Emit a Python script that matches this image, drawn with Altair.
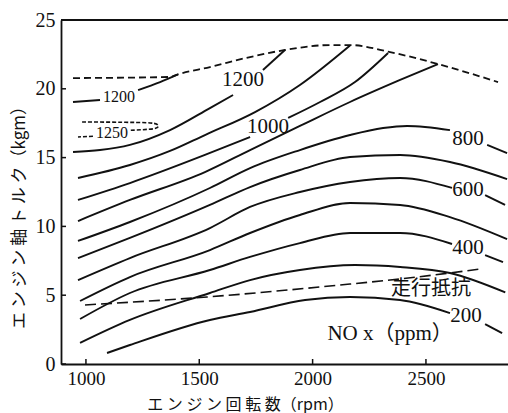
import altair as alt
import pandas as pd

# Axes: engine speed (rpm) and engine shaft torque (kgm)
SPEED_DOMAIN = [890, 2862]
TORQUE_DOMAIN = [0, 25]
speed_ticks = [1000, 1500, 2000, 2500]
torque_ticks = [0, 5, 10, 15, 20, 25]

# NOx iso-concentration lines (ppm). Each is a list of segments; the breaks
# leave room for the value labels. Points are (rpm, kgm).
nox_200 = [[(1093, 0.8), (1194, 1.38), (1547, 3.2), (1724, 3.78), (1967, 4.65),
            (2165, 4.87), (2386, 4.65), (2606, 3.7)],
           [(2761, 2.9), (2836, 2.25)]]
nox_300 = [[(974, 1.53), (1194, 3.2), (1547, 5.16), (1724, 6.1), (1944, 6.83),
            (2187, 7.19), (2386, 7.05), (2606, 6.61), (2850, 5.2)]]
nox_400 = [[(974, 3.27), (1194, 5.16), (1547, 6.83), (1724, 7.78), (1944, 8.79),
            (2165, 9.52), (2386, 9.52), (2615, 8.72)],
           [(2761, 7.92), (2840, 7.41)]]
nox_500 = [[(974, 4.58), (1194, 6.32), (1547, 8.28), (1724, 9.52), (1944, 10.83),
            (2165, 11.7), (2386, 11.56), (2606, 10.68), (2858, 9.08)]]
nox_600 = [[(965, 6.1), (1194, 7.7), (1547, 9.88), (1724, 11.41), (1944, 12.5),
            (2165, 13.23), (2386, 13.52), (2615, 12.8)],
           [(2761, 12.28), (2849, 11.56)]]
nox_700 = [[(965, 7.7), (1194, 9.16), (1547, 11.56), (1724, 12.86), (1944, 14.1),
            (2165, 15.04), (2386, 15.19), (2606, 14.68), (2858, 13.44)]]
nox_800 = [[(965, 8.94), (1194, 10.32), (1547, 12.79), (1724, 14.24), (1944, 15.55),
            (2165, 16.64), (2311, 17.15), (2417, 17.3), (2606, 17.0)],
           [(2770, 15.92), (2858, 15.33)]]
nox_900 = [[(965, 10.39), (1194, 11.92), (1525, 13.95), (1724, 15.55), (1944, 17.3),
            (2165, 19.04), (2386, 20.64), (2553, 21.8)]]
nox_1000 = [[(965, 11.92), (1194, 13.15), (1525, 15.19), (1724, 16.5)],
            [(1892, 17.88), (2033, 19.04), (2187, 20.49), (2333, 22.6)]]
nox_1100 = [[(965, 13.52), (1194, 14.46), (1371, 15.48), (1525, 16.64), (1746, 18.31),
             (1944, 20.28), (2165, 23.15)]]
nox_1200 = [[(943, 15.41), (1062, 15.55), (1194, 15.92), (1371, 17.0), (1547, 18.6),
             (1649, 19.55)],
            [(1781, 21.37), (1878, 22.82)]]
nox_1200_upper = [[(943, 19.04), (1062, 19.19)],
                  [(1230, 19.91), (1327, 20.49), (1406, 21.05)]]

# 1250 ppm island (open on the low-speed side), traced in drawing order
nox_1250 = [[(983, 17.59), (1150, 17.57), (1283, 17.52), (1318, 17.35), (1300, 17.1),
             (1194, 16.98)],
            [(1031, 16.55), (965, 16.5)]]

# Full-throttle torque curve and road-load (running resistance) curve
full_load = [(943, 20.78), (1371, 20.86), (1406, 21.05), (1547, 21.58), (1724, 22.31),
             (1878, 22.82), (2077, 23.18), (2165, 23.18), (2342, 22.67), (2553, 21.8),
             (2818, 20.49)]
road_load = [(996, 4.29), (1534, 4.87), (2165, 5.81), (2342, 6.1), (2739, 6.9)]

# Contour value labels
label_text = ["1200", "1250", "1200", "1000", "800", "600", "400", "200"]
label_rpm = [1146, 1115, 1693, 1803, 2686, 2686, 2686, 2677]
label_kgm = [19.4, 16.79, 20.64, 17.19, 16.35, 12.65, 8.43, 3.49]
label_size = [16, 16, 21, 21, 21, 21, 21, 21]

# Other annotations
note_text = ["走行抵抗", "NO x（ppm）"]
note_rpm = [2522, 2342]
note_kgm = [5.45, 2.18]
note_size = [20, 21]
note_font = ["Noto Sans CJK JP", "Liberation Serif, Noto Sans CJK JP"]

INK = "#111111"


def segments_frame(groups):
    rows = []
    for name, segs in groups:
        for i, seg in enumerate(segs):
            for j, (rpm, kgm) in enumerate(seg):
                rows.append({"seg": f"{name}-{i}", "ord": j, "rpm": rpm, "kgm": kgm})
    return pd.DataFrame(rows)


contour_df = segments_frame([
    ("200", nox_200), ("300", nox_300), ("400", nox_400), ("500", nox_500),
    ("600", nox_600), ("700", nox_700), ("800", nox_800), ("900", nox_900),
    ("1000", nox_1000), ("1100", nox_1100), ("1200", nox_1200),
    ("1200u", nox_1200_upper),
])
island_df = segments_frame([("1250", nox_1250)])
full_df = segments_frame([("full", [full_load])])
road_df = segments_frame([("road", [road_load])])
label_df = pd.DataFrame({"text": label_text, "rpm": label_rpm, "kgm": label_kgm,
                         "size": label_size})

axis_style = dict(
    domainColor=INK, domainWidth=1.8, tickSize=0, grid=False,
    labelColor=INK, labelFont="Liberation Serif",
    titleColor=INK, titleFont="Noto Sans CJK JP", titleFontWeight="normal",
    format="d",
)

x_enc = alt.X(
    "rpm:Q",
    scale=alt.Scale(domain=SPEED_DOMAIN, nice=False, zero=False),
    axis=alt.Axis(values=speed_ticks, labelPadding=5, labelFontSize=19,
                  title="エ ン ジ ン 回 転 数（rpm）", titleFontSize=16,
                  titleX=184, titleY=40, titleBaseline="middle", **axis_style),
)
y_enc = alt.Y(
    "kgm:Q",
    scale=alt.Scale(domain=TORQUE_DOMAIN, nice=False, zero=False),
    axis=alt.Axis(values=torque_ticks, labelPadding=6, labelFontSize=20,
                  title="エ ン ジ ン 軸 ト ル ク（kgm）", titleFontSize=17,
                  titleX=-42, titleY=193, titleBaseline="middle", **axis_style),
)

contours = alt.Chart(contour_df).mark_line(
    interpolate="monotone", color=INK, strokeWidth=1.9, clip=True
).encode(x=x_enc, y=y_enc, detail="seg:N")

island = alt.Chart(island_df).mark_line(
    interpolate="cardinal", color=INK, strokeWidth=1.6, strokeDash=[4, 2], clip=True
).encode(x="rpm:Q", y="kgm:Q", detail="seg:N", order="ord:Q")

full_curve = alt.Chart(full_df).mark_line(
    interpolate="monotone", color=INK, strokeWidth=1.8, strokeDash=[7, 4], clip=True
).encode(x="rpm:Q", y="kgm:Q")

road_curve = alt.Chart(road_df).mark_line(
    interpolate="monotone", color=INK, strokeWidth=1.6, strokeDash=[11, 5], clip=True
).encode(x="rpm:Q", y="kgm:Q")

labels = alt.Chart(label_df).mark_text(
    font="Liberation Serif", color=INK, align="center", baseline="middle"
).encode(x="rpm:Q", y="kgm:Q", text="text:N", size=alt.Size("size:Q", scale=None))

notes = [
    alt.Chart(pd.DataFrame({"text": [t], "rpm": [r], "kgm": [k]})).mark_text(
        font=f, fontSize=s, color=INK, align="center", baseline="middle"
    ).encode(x="rpm:Q", y="kgm:Q", text="text:N")
    for t, r, k, s, f in zip(note_text, note_rpm, note_kgm, note_size, note_font)
]

# Inward tick marks on both axes
x_ticks = alt.Chart(pd.DataFrame({"rpm": speed_ticks})).mark_rule(
    color=INK, strokeWidth=1.5
).encode(x="rpm:Q", y=alt.value(344), y2=alt.value(339))
y_ticks = alt.Chart(pd.DataFrame({"kgm": torque_ticks})).mark_rule(
    color=INK, strokeWidth=1.5
).encode(y="kgm:Q", x=alt.value(0), x2=alt.value(5))

# Upper frame line
top_edge = alt.Chart(pd.DataFrame({"v": [0]})).mark_rule(
    color=INK, strokeWidth=1.8
).encode(x=alt.value(0), x2=alt.value(447), y=alt.value(0))

chart = alt.layer(
    contours, island, full_curve, road_curve, labels, *notes, x_ticks, y_ticks, top_edge
).properties(
    width=447,
    height=344,
    padding={"left": 61, "top": 20, "right": 0, "bottom": 49},
    autosize=alt.AutoSizeParams(type="none"),
    background="white",
).configure_view(strokeWidth=0)

chart.save("out.html", embed_options={"renderer": "svg", "actions": False})
